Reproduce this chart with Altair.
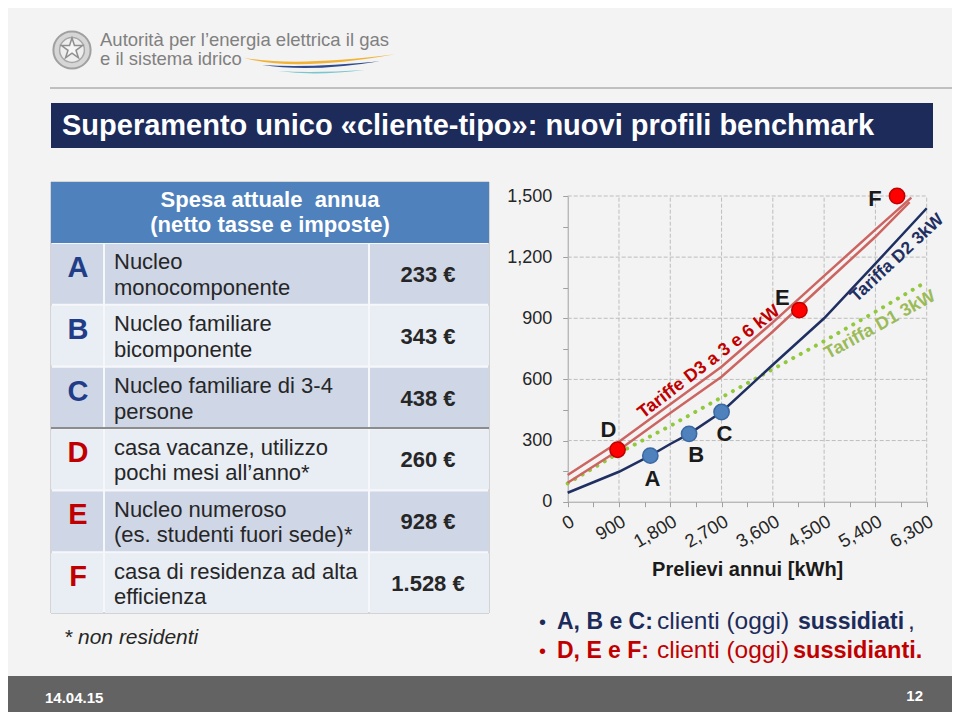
import altair as alt
import pandas as pd

FONT = "Liberation Sans"
W, H = 944, 704

# ---------------- data ----------------
logo_lines = ["Autorità per l’energia elettrica il gas", "e il sistema idrico"]
slide_title = "Superamento unico «cliente-tipo»: nuovi profili benchmark"
header_lines = ["Spesa attuale  annua", "(netto tasse e imposte)"]
row_letters = ["A", "B", "C", "D", "E", "F"]
row_desc_1 = ["Nucleo", "Nucleo familiare", "Nucleo familiare di 3-4",
              "casa vacanze, utilizzo", "Nucleo numeroso", "casa di residenza ad alta"]
row_desc_2 = ["monocomponente", "bicomponente", "persone",
              "pochi mesi all’anno*", "(es. studenti fuori sede)*", "efficienza"]
row_spesa = ["233 €", "343 €", "438 €", "260 €", "928 €", "1.528 €"]
row_group = ["sussidiati", "sussidiati", "sussidiati",
             "sussidianti", "sussidianti", "sussidianti"]
footnote = "* non residenti"

x_ticks = [0, 900, 1800, 2700, 3600, 4500, 5400, 6300]
y_ticks = [0, 300, 600, 900, 1200, 1500]
x_title = "Prelievi annui [kWh]"

d1_kwh = [0, 900, 1800, 2700, 3600, 4500, 5400, 6300]
d1_eur = [90, 240, 372, 512, 650, 788, 932, 1080]
d2_kwh = [0, 900, 1450, 1800, 2130, 2700, 3600, 4500, 5400, 6300]
d2_eur = [44, 147, 226, 283, 333, 440, 672, 900, 1168, 1440]
d3_low_kwh = [0, 900, 1800, 2700, 3600, 4500, 5400, 6000]
d3_low_eur = [93, 254, 435, 613, 835, 1068, 1300, 1470]
d3_up_kwh = [0, 900, 1800, 2700, 3600, 4500, 5400, 6030]
d3_up_eur = [131, 294, 478, 662, 880, 1108, 1335, 1492]

pt_labels = ["A", "B", "C", "D", "E", "F"]
pt_kwh = [1450, 2130, 2700, 875, 4066, 5780]
pt_eur = [226, 333, 440, 255, 940, 1500]
pt_group = row_group

line_names = ["Tariffe D3 a 3 e 6 kW", "Tariffa D2 3kW", "Tariffa D1 3kW"]
line_name_kwh = [2480, 5780, 5480]
line_name_eur = [685, 1195, 867]

bullet_1 = ["A, B e C:", "clienti (oggi)", "sussidiati", ","]
bullet_2 = ["D, E e F:", "clienti (oggi)", "sussidianti."]
footer_date = "14.04.15"
footer_page = "12"

# ---------------- helpers ----------------
NAVY = "#1d2b5b"
RED = "#c00000"
TXT = "#262626"


def one():
    return alt.Data(values=[{"k": 0}])


def txt(text, x, y, size, color, weight="normal", align="left",
        baseline="alphabetic", style="normal"):
    return alt.Chart(one()).mark_text(
        text=text, fontSize=size, color=color, fontWeight=weight, align=align,
        baseline=baseline, fontStyle=style, font=FONT
    ).encode(x=alt.value(x), y=alt.value(y))


def box(x0, x1, y0, y1, fill, stroke=None, sw=0):
    kw = dict(fill=fill, strokeWidth=sw)
    if stroke:
        kw["stroke"] = stroke
    return alt.Chart(one()).mark_rect(**kw).encode(
        x=alt.value(x0), x2=alt.value(x1), y=alt.value(y0), y2=alt.value(y1))


def shape(path, x, y, size, fill, stroke=None, sw=0):
    kw = dict(shape=path, size=size, filled=True, fill=fill, opacity=1, strokeWidth=sw)
    if stroke:
        kw["stroke"] = stroke
    return alt.Chart(one()).mark_point(**kw).encode(x=alt.value(x), y=alt.value(y))


decor = []
# ---- logo ----
STAR = ("M0,-1L0.2245,-0.309L0.951,-0.309L0.363,0.118L0.588,0.809L0,0.382"
        "L-0.588,0.809L-0.363,0.118L-0.951,-0.309L-0.2245,-0.309Z")
decor.append(shape("circle", 64, 42, 1385, "#d6d6d6", "#a0a0a0", 2))
decor.append(shape("circle", 64, 42, 616, "#eeeeee", "#a8a8a8", 1.5))
decor.append(shape(STAR, 64, 41, 484, "#f6f6f6", "#8f8f8f", 1.5))
decor.append(txt(logo_lines[0], 92, 38, 18.5, "#808080"))
decor.append(txt(logo_lines[1], 92, 57, 18.5, "#808080"))
decor.append(shape("M-1,-0.10Q-0.35,0.10 1,-0.14Q-0.35,0.03 -1,-0.10Z", 311, 57, 23104, "#f2b233"))
decor.append(shape("M-0.75,0.0Q-0.1,0.10 0.8,-0.05Q-0.1,0.04 -0.75,0.0Z", 311, 57, 23104, "#2d4a8e"))
decor.append(shape("M-0.54,0.08Q-0.05,0.15 0.6,0.066Q-0.05,0.11 -0.54,0.08Z", 311, 57, 23104, "#79c6cc"))
decor.append(alt.Chart(one()).mark_rule(color="#8c8c8c", strokeWidth=1).encode(
    x=alt.value(42), x2=alt.value(W), y=alt.value(80)))

# ---- title bar ----
decor.append(box(43, 925, 95, 140, NAVY))
decor.append(txt(slide_title, 54, 127, 29, "white", weight="bold"))

# ---- table ----
decor.append(box(43, 481, 174, 605, "#f6f7fa", "#b4b4b4", 1))
decor.append(box(43, 481, 174, 235, "#4f81bd"))
decor.append(txt(header_lines[0].replace("  ", "\u00a0 "), 262, 199, 22, "white",
                 weight="bold", align="center"))
decor.append(txt(header_lines[1], 262, 224, 22, "white", weight="bold", align="center"))

tdf = pd.DataFrame({"letter": row_letters, "d1": row_desc_1, "d2": row_desc_2,
                    "spesa": row_spesa, "group": row_group})
row_scale = alt.Scale(domain=row_letters, range=[236, 605], paddingInner=0.035, paddingOuter=0)
ty = alt.Y("letter:N", scale=row_scale, axis=None)
shade = alt.Fill("letter:N", scale=alt.Scale(domain=row_letters,
                 range=["#cfd6e6", "#e9edf4"] * 3), legend=None)
group_col = alt.Color("group:N", scale=alt.Scale(domain=["sussidiati", "sussidianti"],
                      range=["#223d88", RED]), legend=None)
tlayers = []
for a, b in [(43, 95), (97, 360), (362, 481)]:
    tlayers.append(alt.Chart(tdf).mark_rect(strokeWidth=0).encode(
        y=ty, x=alt.value(a), x2=alt.value(b), fill=shade))
tlayers.append(alt.Chart(tdf).mark_text(fontSize=29, fontWeight="bold", align="center",
               baseline="alphabetic", dy=3, font=FONT).encode(
    y=ty, x=alt.value(70), text="letter:N", color=group_col))
tlayers.append(alt.Chart(tdf).mark_text(fontSize=22, align="left", baseline="alphabetic",
               dy=-4.5, color=TXT, font=FONT).encode(y=ty, x=alt.value(106), text="d1:N"))
tlayers.append(alt.Chart(tdf).mark_text(fontSize=22, align="left", baseline="alphabetic",
               dy=21, color=TXT, font=FONT).encode(y=ty, x=alt.value(106), text="d2:N"))
tlayers.append(alt.Chart(tdf).mark_text(fontSize=22, fontWeight="bold", align="center",
               baseline="alphabetic", dy=8, color=TXT, font=FONT).encode(
    y=ty, x=alt.value(420), text="spesa:N"))
table_layer = alt.layer(*tlayers)

after = []
after.append(alt.Chart(one()).mark_rule(color="#8c8c8c", strokeWidth=2).encode(
    x=alt.value(43), x2=alt.value(481), y=alt.value(420)))
after.append(txt(footnote, 56, 636, 21, TXT, style="italic"))

# ---- main chart ----
PX0, PX1 = 559.7, 918.7
PY0, PY1 = 493.7, 188.0
xs = alt.Scale(domain=[x_ticks[0], x_ticks[-1]], range=[PX0, PX1], nice=False, zero=False)
ys = alt.Scale(domain=[y_ticks[0], y_ticks[-1]], range=[PY0, PY1], nice=False, zero=False)
AXC = "#a0a0a0"
x_axis = alt.Axis(
    values=list(range(0, 6301, 450)),
    labelExpr="datum.value % 900 === 0 ? format(datum.value, ',') : ''",
    labelAngle=330, labelAlign="right", labelBaseline="top", labelFlush=False,
    labelOverlap=False, labelFontSize=18.5, labelFont=FONT, labelColor=TXT, labelPadding=5,
    tickSize=5, tickColor=AXC, domainColor=AXC, grid=False, offset=PY0 - H,
    title=x_title, titleFont=FONT, titleFontSize=20, titleFontWeight="bold",
    titleColor="#1a1a1a", titleY=74, titleBaseline="alphabetic")
y_axis = alt.Axis(
    values=list(range(0, 1501, 150)),
    labelExpr="datum.value % 300 === 0 ? format(datum.value, ',') : ''",
    labelFontSize=18, labelFont=FONT, labelColor=TXT, labelPadding=11, labelFlush=False,
    labelOverlap=False, tickSize=5, tickColor=AXC, domainColor=AXC, grid=False,
    offset=-PX0, title=None)


def X(f):
    return alt.X(f, type="quantitative", scale=xs, axis=x_axis)


def Y(f):
    return alt.Y(f, type="quantitative", scale=ys, axis=y_axis)


GRID = dict(color="#bdbdbd", strokeWidth=1, strokeDash=[4, 2])
vg = pd.DataFrame({"kwh": x_ticks[1:], "lo": y_ticks[0], "hi": y_ticks[-1]})
hg = pd.DataFrame({"eur": y_ticks[1:], "lo": x_ticks[0], "hi": x_ticks[-1]})
clayers = [
    alt.Chart(vg).mark_rule(**GRID).encode(x=X("kwh"), y=Y("lo"), y2=alt.Y2("hi")),
    alt.Chart(hg).mark_rule(**GRID).encode(y=Y("eur"), x=X("lo"), x2=alt.X2("hi")),
]


def line(kwh, eur, **kw):
    return alt.Chart(pd.DataFrame({"kwh": kwh, "eur": eur})).mark_line(**kw).encode(
        x=X("kwh"), y=Y("eur"))


clayers.append(line(d1_kwh, d1_eur, color="#92c83e", strokeWidth=4,
                    strokeDash=[0.1, 8.5], strokeCap="round"))
clayers.append(line(d3_low_kwh, d3_low_eur, color="#cc6561", strokeWidth=2.5))
clayers.append(line(d3_up_kwh, d3_up_eur, color="#cc6561", strokeWidth=2.5))
clayers.append(line(d2_kwh, d2_eur, color="#1f2f62", strokeWidth=2.5))

pdf = pd.DataFrame({"label": pt_labels, "kwh": pt_kwh, "eur": pt_eur, "group": pt_group})
clayers.append(alt.Chart(pdf).mark_circle(size=235, opacity=1, strokeWidth=1.5).encode(
    x=X("kwh"), y=Y("eur"),
    fill=alt.Fill("group:N", scale=alt.Scale(domain=["sussidiati", "sussidianti"],
                  range=["#4f81bd", "#ff0000"]), legend=None),
    stroke=alt.Stroke("group:N", scale=alt.Scale(domain=["sussidiati", "sussidianti"],
                      range=["#3b69a3", "#c00000"]), legend=None)))

label_offsets = {"A": (2, 23), "B": (7, 21), "C": (3, 22),
                 "D": (-9, -20), "E": (-17, -12), "F": (-22, 3)}
for lab in pt_labels:
    dx, dy = label_offsets[lab]
    clayers.append(alt.Chart(pdf).transform_filter(alt.datum.label == lab).mark_text(
        dx=dx, dy=dy, fontSize=22, fontWeight="bold", color="#1a1a1a", font=FONT,
        baseline="middle", align="center").encode(x=X("kwh"), y=Y("eur"), text="label:N"))

ldf = pd.DataFrame({"name": line_names, "kwh": line_name_kwh, "eur": line_name_eur})
line_label_style = {line_names[0]: (322.5, RED, 18),
                    line_names[1]: (317, "#1f2f62", 17.5),
                    line_names[2]: (331, "#9bbb59", 18)}
for nm in line_names:
    ang, col, fs = line_label_style[nm]
    clayers.append(alt.Chart(ldf).transform_filter(alt.datum.name == nm).mark_text(
        angle=ang, color=col, fontSize=fs, fontWeight="bold", font=FONT,
        align="center", baseline="middle").encode(x=X("kwh"), y=Y("eur"), text="name:N"))

chart_layer = alt.layer(*clayers)

# ---- bullets ----
after.append(txt("•", 531, 621, 20, NAVY))
after.append(txt(bullet_1[0], 549, 621, 23, NAVY, weight="bold"))
after.append(txt(bullet_1[1], 649, 621, 24.5, NAVY))
after.append(txt(bullet_1[2], 790, 621, 23, NAVY, weight="bold"))
after.append(txt(bullet_1[3], 900, 621, 24.5, NAVY))
after.append(txt("•", 531, 650, 20, RED))
after.append(txt(bullet_2[0], 549, 650, 23, RED, weight="bold"))
after.append(txt(bullet_2[1], 649, 650, 24.5, RED))
after.append(txt(bullet_2[2], 785, 650, 23.5, RED, weight="bold"))

# ---- footer ----
after.append(box(0, W, 668, H, "#636363"))
after.append(txt(footer_date, 37, 695, 15, "white", weight="bold"))
after.append(txt(footer_page, 915, 693, 15, "white", weight="bold", align="right"))

chart = alt.layer(*decor, table_layer, *after, chart_layer).resolve_scale(
    x="independent", y="independent", fill="independent",
    stroke="independent", color="independent"
).properties(
    width=W, height=H, padding=0, autosize="none", background="#f3f3f3"
).configure(font=FONT).configure_view(stroke=None)

chart.save("out.html", embed_options={"renderer": "svg", "actions": False})
